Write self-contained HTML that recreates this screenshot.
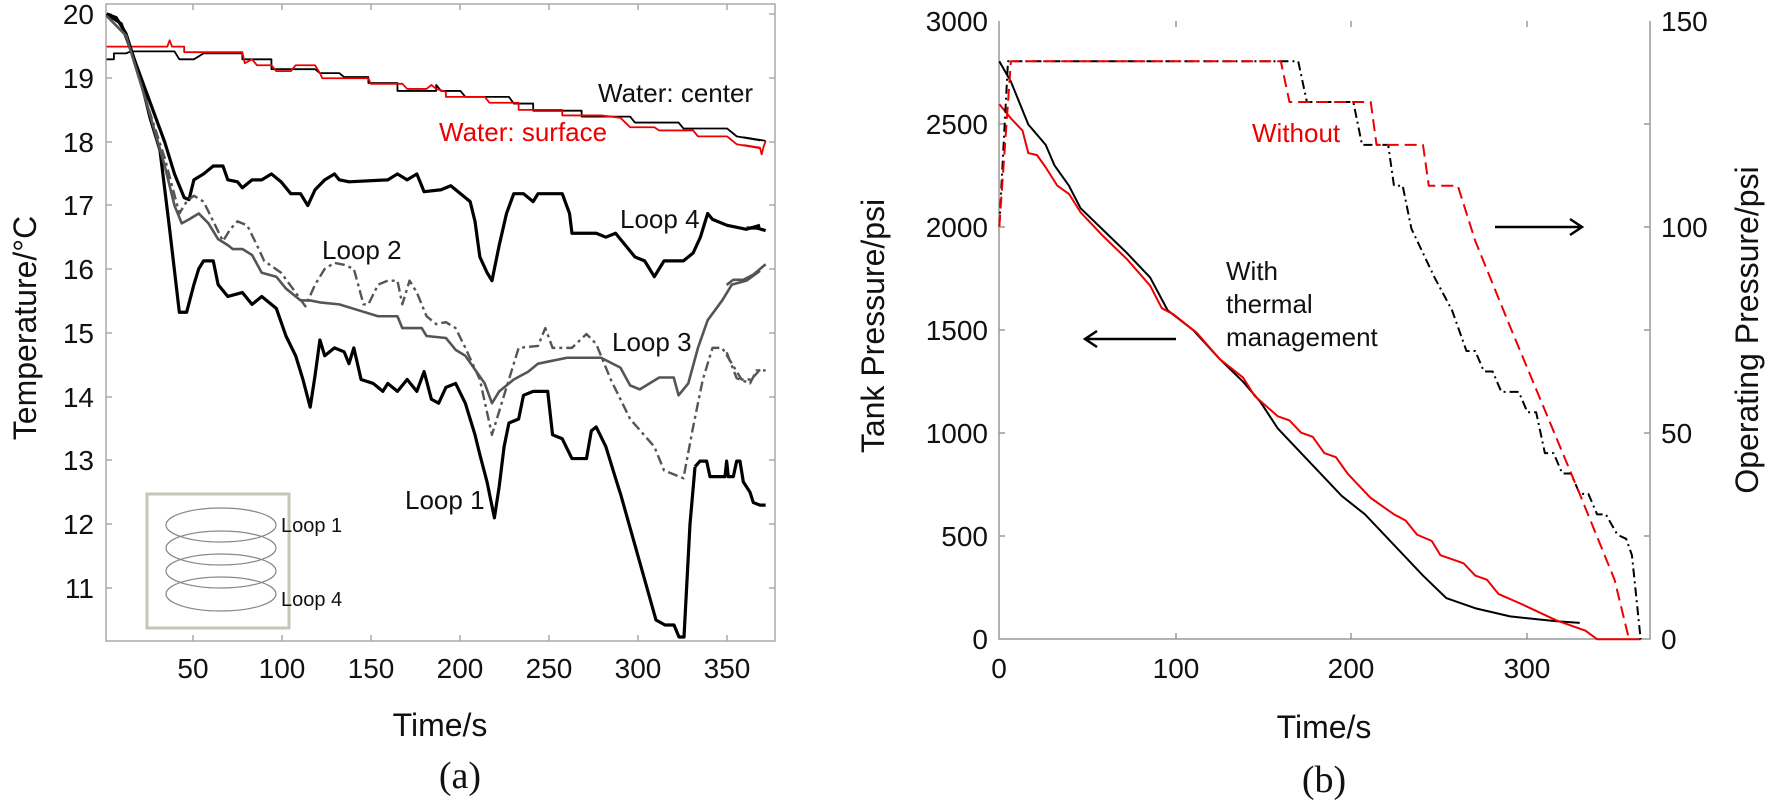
<!DOCTYPE html>
<html><head><meta charset="utf-8"><style>
html,body{margin:0;padding:0;background:#fff;}
svg{display:block;font-family:"Liberation Sans",Arial,sans-serif;}
.ns{vector-effect:non-scaling-stroke;fill:none;stroke-linejoin:round;}
</style></head><body>
<svg width="1770" height="812" viewBox="0 0 1770 812" xmlns="http://www.w3.org/2000/svg">
<rect x="106" y="4" width="669" height="637" fill="none" stroke="#aaa" stroke-width="1.5"/>
<g stroke="#aaa" stroke-width="1.5">
<path d="M106 14h6M106 78h6M106 142h6M106 205h6M106 269h6M106 333h6M106 397h6M106 460h6M106 524h6M106 588h6"/>
<path d="M775 14h-6M775 78h-6M775 142h-6M775 205h-6M775 269h-6M775 333h-6M775 397h-6M775 460h-6M775 524h-6M775 588h-6"/>
<path d="M193 641v-6M282 641v-6M371 641v-6M460 641v-6M549 641v-6M638 641v-6M727 641v-6"/>
<path d="M193 4v6M282 4v6M371 4v6M460 4v6M549 4v6M638 4v6M727 4v6"/>
</g>
<g font-size="28" text-anchor="end" fill="#111">
<text x="94" y="24">20</text><text x="94" y="88">19</text><text x="94" y="152">18</text><text x="94" y="215">17</text><text x="94" y="279">16</text><text x="94" y="343">15</text><text x="94" y="407">14</text><text x="94" y="470">13</text><text x="94" y="534">12</text><text x="94" y="598">11</text>
</g>
<g font-size="28" text-anchor="middle" fill="#111">
<text x="193" y="678">50</text><text x="282" y="678">100</text><text x="371" y="678">150</text><text x="460" y="678">200</text><text x="549" y="678">250</text><text x="638" y="678">300</text><text x="727" y="678">350</text>
<text x="440" y="736" font-size="32">Time/s</text>
<text x="460" y="788" font-size="38" font-family="Liberation Serif,serif">(a)</text>
</g>
<text transform="translate(36,328) rotate(-90)" font-size="32" text-anchor="middle" fill="#111">Temperature/°C</text>

<rect x="147" y="494" width="142" height="134" fill="none" stroke="#c8c4b8" stroke-width="3"/>
<g fill="none" stroke="#888" stroke-width="1.2">
<ellipse cx="221" cy="525" rx="55" ry="17"/><ellipse cx="221" cy="548" rx="55" ry="17"/>
<ellipse cx="221" cy="571" rx="55" ry="17"/><ellipse cx="221" cy="594" rx="55" ry="17"/>
</g>
<g font-size="20" fill="#111"><text x="281" y="532">Loop 1</text><text x="281" y="606">Loop 4</text></g>

<g transform="scale(0.4847,0.3953)">
<polyline class="ns" stroke="#000" stroke-width="1.8" points="220,150 235,150 235,135 260,135 270,130 360,130 370,150 400,150 420,135 500,135 500,150 560,150 560,175 650,175 660,185 700,185 710,195 760,195 760,210 820,210 820,230 900,230 900,215 910,230 950,230 960,245 1050,245 1060,262 1100,262 1100,280 1200,280 1200,295 1300,295 1310,310 1400,310 1410,325 1500,325 1520,345 1568,355"/>
<polyline class="ns" stroke="#e00" stroke-width="1.8" points="220,118 345,118 350,102 355,118 380,118 380,132 500,132 505,160 520,150 530,165 560,165 570,180 600,180 610,165 650,165 660,185 665,198 760,198 765,212 830,212 840,225 880,225 890,215 900,225 920,232 920,245 1000,245 1010,260 1070,260 1070,278 1160,278 1160,292 1240,292 1280,298 1300,322 1350,322 1360,330 1430,330 1440,345 1500,345 1520,365 1568,375"/>
<polyline class="ns" stroke="#000" stroke-width="3.2" points="220,35 240,45 260,85 290,200 310,300 330,380 350,580 370,790 385,790 400,720 410,680 420,660 440,660 450,720 470,750 500,740 520,770 540,750 570,780 590,850 610,900 625,960 640,1030 650,950 660,860 670,900 690,880 710,890 720,920 730,880 745,960 770,970 790,990 800,970 820,990 840,960 860,990 875,940 890,1010 905,1020 920,980 940,970 960,1020 980,1100 990,1150 1005,1220 1020,1310 1030,1230 1040,1130 1050,1070 1070,1060 1080,1000 1100,990 1130,990 1140,1100 1160,1110 1180,1160 1210,1160 1220,1090 1230,1080 1250,1130 1270,1210 1279,1245"/>
<polyline class="ns" stroke="#000" stroke-width="3.2" points="220,35 250,60 280,160 310,260 340,360 360,440 380,500 390,505 400,455 420,440 440,420 460,420 470,455 490,460 500,475 520,455 540,455 560,440 580,460 600,490 620,490 635,520 650,480 670,455 690,440 700,455 720,460 800,455 820,440 840,455 860,440 875,485 910,480 930,470 960,500 970,510 980,560 990,650 1005,690 1015,710 1030,620 1045,540 1060,490 1080,490 1100,510 1110,490 1160,490 1175,540 1180,590 1230,590 1250,600 1270,590 1290,620 1310,650 1330,660 1350,700 1370,660 1410,660 1430,640 1445,600 1460,540 1470,555 1500,570 1540,580 1568,570"/>
<polyline class="ns" stroke="#555" stroke-width="2.6" points="220,40 260,90 300,250 340,420 360,520 375,565 390,555 410,540 430,565 450,605 470,620 480,630 500,630 520,645 540,690 570,700 590,730 620,760 640,760 660,765 700,770 740,785 780,800 820,800 830,830 870,830 880,850 920,855 940,885 960,900 1000,970 1015,1020 1030,990 1060,960 1090,940 1110,920 1130,915 1170,905 1240,905 1280,930 1300,975 1320,985 1360,955 1390,955 1400,1000 1420,970 1440,880 1460,810 1490,760 1510,720 1540,710 1568,685"/>
<polyline class="ns" stroke="#555" stroke-width="2.4" stroke-dasharray="10,4,3,4" points="220,40 260,90 300,250 340,400 370,540 385,510 400,495 420,510 440,560 460,610 475,580 490,560 510,570 530,620 545,660 580,690 610,740 630,775 650,720 670,680 690,665 710,670 730,680 750,770 760,770 780,720 800,710 820,710 830,770 845,710 860,740 880,800 900,820 920,815 940,830 960,880 990,960 1015,1100 1030,1040 1050,960 1070,880 1110,875 1125,830 1140,880 1180,880 1210,845 1230,870 1260,960 1300,1060 1350,1130 1370,1190 1410,1210 1430,1080 1450,960 1470,880 1490,880 1510,920 1530,960 1550,960 1568,935"/>
</g>
<polyline class="ns" stroke="#000" stroke-width="3.2" points="620,492 638,556 647,588 656,620 665,625 674,625 679,637 684,637 690,524 695,467"/>
<g transform="translate(600,0) scale(0.3333,0.5181)">
<polyline class="ns" stroke="#000" stroke-width="3.2" points="285,901 300,890 320,890 330,920 375,920 380,890 385,920 400,920 410,890 420,890 430,930 450,950 460,970 480,975 497,975"/>
<polyline class="ns" stroke="#000" stroke-width="3.2" points="440,440 470,440 497,445"/>
<polyline class="ns" stroke="#555" stroke-width="2.6" points="380,550 400,540 430,540 460,530 497,510"/>
<polyline class="ns" stroke="#555" stroke-width="2.4" stroke-dasharray="10,4,3,4" points="380,680 410,730 450,740 470,715 497,715"/>
<polyline class="ns" stroke="#000" stroke-width="1.8" points="430,265 480,270 497,272"/>
<polyline class="ns" stroke="#e00" stroke-width="1.8" points="430,280 480,285 485,298 490,285 497,272"/>
</g>
<g font-size="26" fill="#111">
<text x="598" y="102">Water: center</text>
<text x="439" y="141" fill="#e00">Water: surface</text>
<text x="620" y="228">Loop 4</text>
<text x="322" y="259">Loop 2</text>
<text x="612" y="351">Loop 3</text>
<text x="405" y="509">Loop 1</text>
</g>

<g stroke="#999" stroke-width="1.5" fill="none">
<path d="M999 21V639H1650V21"/>
<path d="M999 124h6M999 227h6M999 330h6M999 433h6M999 536h6"/>
<path d="M1650 124h-6M1650 227h-6M1650 330h-6M1650 433h-6M1650 536h-6"/>
<path d="M1176 639v-6M1351 639v-6M1527 639v-6M1176 21v6M1351 21v6M1527 21v6"/>
</g>
<g font-size="28" text-anchor="end" fill="#111">
<text x="988" y="31">3000</text><text x="988" y="134">2500</text><text x="988" y="237">2000</text><text x="988" y="340">1500</text><text x="988" y="443">1000</text><text x="988" y="546">500</text><text x="988" y="649">0</text>
</g>
<g font-size="28" fill="#111">
<text x="1661" y="31">150</text><text x="1661" y="237">100</text><text x="1661" y="443">50</text><text x="1661" y="649">0</text>
</g>
<g font-size="28" text-anchor="middle" fill="#111">
<text x="999" y="678">0</text><text x="1176" y="678">100</text><text x="1351" y="678">200</text><text x="1527" y="678">300</text>
<text x="1324" y="738" font-size="32">Time/s</text>
<text x="1324" y="792" font-size="38" font-family="Liberation Serif,serif">(b)</text>
</g>
<text transform="translate(884,326) rotate(-90)" font-size="32" text-anchor="middle" fill="#111">Tank Pressure/psi</text>
<text transform="translate(1758,330) rotate(-90)" font-size="32" text-anchor="middle" fill="#111">Operating Pressure/psi</text>

<g transform="translate(860,0) scale(0.5804,0.4082)">
<polyline class="ns" stroke="#000" stroke-width="2" points="240,150 260,200 290,305 320,355 335,405 360,455 380,510 420,565 460,620 500,680 530,760 575,810 620,880 660,935 690,985 720,1050 760,1110 800,1170 830,1215 870,1260 930,1350 970,1410 1010,1465 1060,1490 1120,1510 1200,1522 1240,1526"/>
<polyline class="ns" stroke="#e00" stroke-width="2" points="240,255 260,290 280,320 290,375 305,380 320,410 340,455 360,475 380,520 420,580 460,635 500,700 520,755 540,770 580,815 620,880 660,925 680,970 720,1020 740,1030 760,1060 780,1070 800,1110 820,1120 840,1160 880,1220 920,1260 940,1275 960,1310 985,1325 1000,1360 1040,1380 1060,1410 1080,1420 1100,1455 1140,1480 1200,1520 1250,1545 1270,1566 1345,1566"/>
<polyline class="ns" stroke="#000" stroke-width="2" stroke-dasharray="9,4,2,4" points="240,555 255,150 755,150 770,250 850,250 865,355 910,355 920,455 935,455 950,560 990,680 1020,760 1045,860 1060,860 1075,910 1090,910 1105,960 1135,960 1150,1010 1165,1010 1180,1110 1195,1110 1210,1160 1225,1160 1240,1210 1255,1210 1270,1260 1285,1260 1305,1310 1320,1320 1330,1360 1345,1566"/>
<polyline class="ns" stroke="#e00" stroke-width="2" stroke-dasharray="12,6" points="240,555 260,150 725,150 740,250 880,250 890,355 970,355 980,455 1030,455 1040,500 1060,590 1120,800 1240,1210 1300,1420 1325,1566"/>
</g>
<g stroke="#000" stroke-width="2.5" fill="none">
<path d="M1176 339H1085M1097 331l-12 8 12 8"/>
<path d="M1495 227H1582M1570 219l12 8-12 8"/>
</g>
<g font-size="26" fill="#111">
<text x="1252" y="142" fill="#e00">Without</text>
<text x="1226" y="280">With</text>
<text x="1226" y="313">thermal</text>
<text x="1226" y="346">management</text>
</g>
</svg>
</body></html>
